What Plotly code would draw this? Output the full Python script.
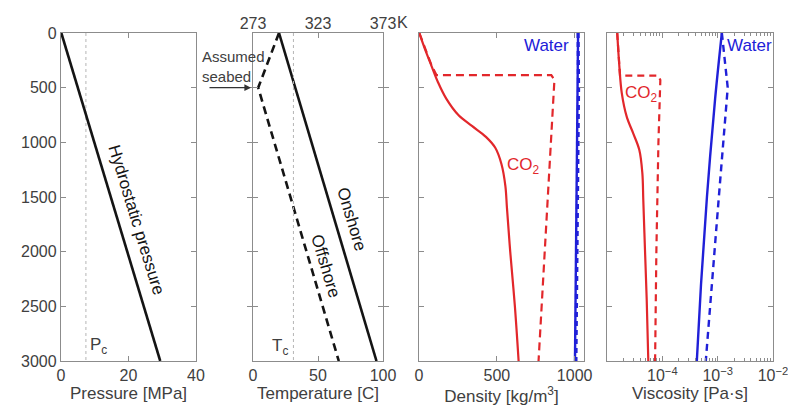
import math
import plotly.graph_objects as go

# ---------------- data ----------------
# Panel 1: pressure vs depth
depth_p = [0, 3000]
pressure_hydro = [0.1, 29.4]
Pc = 7.38

# Panel 2: temperature vs depth
depth_t_on = [0, 3000]
temp_on = [20, 95]
depth_t_off = [0, 500, 3000]
temp_off = [20, 4, 66]
Tc = 31.1
kelvin_vals = [0, 50, 100]
kelvin_text = ['273', '323', '373']

# Panel 3: density vs depth
depth_rho_co2_on = [0, 150, 300, 450, 600, 750, 850, 950, 1050, 1200, 1400, 1600, 2000, 2500, 3000]
rho_co2_on = [2, 39, 80, 122, 175, 253, 340, 430, 490, 530, 555, 565, 586, 616, 640]
depth_rho_co2_off = [0, 150, 300, 385, 385, 430, 1500, 2500, 3000]
rho_co2_off = [2, 40, 82, 112, 850, 870, 828, 788, 768]
depth_rho_w_on = [0, 3000]
rho_w_on = [1022, 1002]
depth_rho_w_off = [0, 500, 3000]
rho_w_off = [1022, 1025, 1008]

# Panel 4: viscosity vs depth
depth_mu_co2_on = [0, 300, 550, 765, 920, 1070, 1280, 1530, 1985, 2440, 3000]
mu_co2_on = [1.53e-5, 1.67e-5, 1.85e-5, 2.27e-5, 2.99e-5, 3.84e-5, 4.35e-5, 4.53e-5, 4.86e-5, 5.22e-5, 5.58e-5]
depth_mu_co2_off = [0, 150, 300, 390, 390, 430, 1000, 2000, 3000]
mu_co2_off = [1.53e-5, 1.6e-5, 1.67e-5, 1.72e-5, 8.4e-5, 9.2e-5, 8.5e-5, 7.8e-5, 7.4e-5]
depth_mu_w_on = [0, 600, 1500, 2300, 3000]
mu_w_on = [1.19e-3, 9.0e-4, 6.4e-4, 5.0e-4, 4.2e-4]
depth_mu_w_off = [0, 500, 1500, 2300, 3000]
mu_w_off = [1.19e-3, 1.52e-3, 1.05e-3, 7.9e-4, 6.1e-4]

depth_ticks = [0, 500, 1000, 1500, 2000, 2500, 3000]
crit_depth = [0, 3000]

# ---------------- style ----------------
W, H = 788, 407
RED = '#e2272b'
BLUE = '#2020d8'
BLACK = '#141414'
FRAME = '#8c8c8c'
TXT = '#404040'
FONT = 'Liberation Sans, Arial, sans-serif'

def px(xp):
    return xp / W

def py(yp):
    return 1 - yp / H

doms = [(61, 196), (253, 383), (419, 584), (607, 773)]
ydom = [py(361), py(33)]

fig = go.Figure()

def line(x, y, ax, color, width, dash='solid', shape='linear'):
    fig.add_trace(go.Scatter(x=x, y=y, xaxis=ax[0], yaxis=ax[1], mode='lines',
                             line=dict(color=color, width=width, dash=dash, shape=shape),
                             hoverinfo='skip', showlegend=False))

# panel 1
line([Pc, Pc], crit_depth, ('x', 'y'), '#b5b5b5', 1, 'dot')
line(pressure_hydro, depth_p, ('x', 'y'), BLACK, 2.6)
# panel 2
line([Tc, Tc], crit_depth, ('x5', 'y2'), '#b5b5b5', 1, 'dot')
line(temp_on, depth_t_on, ('x2', 'y2'), BLACK, 2.6)
line(temp_off, depth_t_off, ('x2', 'y2'), BLACK, 2.6, '8px,5px')
# panel 3
line(rho_co2_on, depth_rho_co2_on, ('x3', 'y3'), RED, 2.2, shape='spline')
line(rho_co2_off, depth_rho_co2_off, ('x3', 'y3'), RED, 2.2, '8px,5px')
line(rho_w_on, depth_rho_w_on, ('x3', 'y3'), BLUE, 2.4)
line(rho_w_off, depth_rho_w_off, ('x3', 'y3'), BLUE, 3.2, '5px,4px')
# panel 4
line(mu_co2_on, depth_mu_co2_on, ('x4', 'y4'), RED, 2.2, shape='spline')
line(mu_co2_off, depth_mu_co2_off, ('x4', 'y4'), RED, 2.2, '7px,5px')
line(mu_w_on, depth_mu_w_on, ('x4', 'y4'), BLUE, 2.4, shape='spline')
line(mu_w_off, depth_mu_w_off, ('x4', 'y4'), BLUE, 2.4, '7px,5px')

common = dict(showline=True, linecolor=FRAME, linewidth=1.3, mirror='allticks',
              ticks='inside', ticklen=5, tickcolor=FRAME, tickwidth=1,
              showgrid=False, zeroline=False, automargin=False,
              ticklabeloverflow='allow',
              tickfont=dict(family=FONT, size=16, color=TXT))
title_font = dict(family=FONT, size=17, color=TXT)

layout = dict(width=W, height=H, margin=dict(l=0, r=0, t=0, b=0, autoexpand=False),
              paper_bgcolor='white', plot_bgcolor='white', showlegend=False)

xdefs = [
    dict(range=[0, 40], tickvals=[0, 20, 40], title=dict(text='Pressure [MPa]', font=title_font, standoff=3)),
    dict(range=[0, 100], tickvals=[0, 50, 100], title=dict(text='Temperature [C]', font=title_font, standoff=3)),
    dict(range=[0, 1060], tickvals=[0, 500, 1000], title=dict(text='Density [kg/m<sup>3</sup>]', font=title_font, standoff=3)),
]
for i, xd in enumerate(xdefs):
    key = 'xaxis' if i == 0 else 'xaxis%d' % (i + 1)
    yk = 'y' if i == 0 else 'y%d' % (i + 1)
    layout[key] = dict(common, domain=[px(doms[i][0]), px(doms[i][1])], anchor=yk, **xd)

minor_vals = [m * 10 ** e for e in (-5, -4, -3) for m in range(2, 10)]
layout['xaxis4'] = dict(common, domain=[px(doms[3][0]), px(doms[3][1])], anchor='y4',
                        type='log', range=[-5, -2],
                        tickvals=[1e-4, 1e-3, 1e-2],
                        ticktext=['10<sup>−4</sup>', '10<sup>−3</sup>', '10<sup>−2</sup>'],
                        minor=dict(tickvals=minor_vals, ticks='inside', ticklen=3, tickcolor=FRAME, showgrid=False),
                        title=dict(text='Viscosity [Pa·s]', font=title_font, standoff=3))

layout['xaxis5'] = dict(overlaying='x2', side='top', anchor='y2', range=[0, 100],
                        tickvals=kelvin_vals, ticktext=kelvin_text, ticks='',
                        showline=False, showgrid=False, zeroline=False, automargin=False,
                        tickfont=dict(family=FONT, size=16, color=TXT))

for i in range(4):
    key = 'yaxis' if i == 0 else 'yaxis%d' % (i + 1)
    xk = 'x' if i == 0 else 'x%d' % (i + 1)
    layout[key] = dict(common, domain=ydom, anchor=xk, range=[3000, 0],
                       tickvals=depth_ticks, showticklabels=(i == 0))

fig.update_layout(**layout)

af = dict(family=FONT, size=17, color=BLACK)
anns = [
    dict(xref='x', yref='y', x=22.2, y=1710, text='Hydrostatic pressure', textangle=73, font=af, showarrow=False),
    dict(xref='x', yref='y', x=11.0, y=2860, text='P<sub>c</sub>', font=dict(family=FONT, size=17, color=TXT), showarrow=False),
    dict(xref='x2', yref='y2', x=75.5, y=1700, text='Onshore', textangle=73.4, font=af, showarrow=False),
    dict(xref='x2', yref='y2', x=55.5, y=2130, text='Offshore', textangle=73.4, font=af, showarrow=False),
    dict(xref='x2', yref='y2', x=21.0, y=2870, text='T<sub>c</sub>', font=dict(family=FONT, size=17, color=TXT), showarrow=False),
    dict(xref='x2', yref='paper', x=100, y=py(23), text='K', xanchor='left', xshift=12,
         yanchor='middle', font=dict(family=FONT, size=16, color=TXT), showarrow=False),
    dict(xref='paper', yref='paper', x=px(200), y=py(66), text='Assumed<br>seabed', align='left',
         xanchor='left', yanchor='middle', font=dict(family=FONT, size=15, color=TXT), showarrow=False),
    dict(xref='paper', yref='y2', x=px(251), y=500, text='', showarrow=True, ax=-43, ay=0,
         arrowhead=2, arrowsize=1.1, arrowwidth=1.2, arrowcolor='#333'),
    dict(xref='x3', yref='y3', x=818, y=110, text='Water', font=dict(family=FONT, size=17, color=BLUE), showarrow=False),
    dict(xref='x3', yref='y3', x=670, y=1220, text='CO<sub>2</sub>', font=dict(family=FONT, size=17, color=RED), showarrow=False),
    dict(xref='x4', yref='y4', x=3.7e-3, y=110, text='Water', font=dict(family=FONT, size=17, color=BLUE), showarrow=False),
    dict(xref='x4', yref='y4', x=4.2e-5, y=560, text='CO<sub>2</sub>', font=dict(family=FONT, size=17, color=RED), showarrow=False),
]
for a in anns:
    if a.get('xref') == 'x4':
        a['x'] = math.log10(a['x'])
fig.update_layout(annotations=anns)

fig.write_html('out.html')
